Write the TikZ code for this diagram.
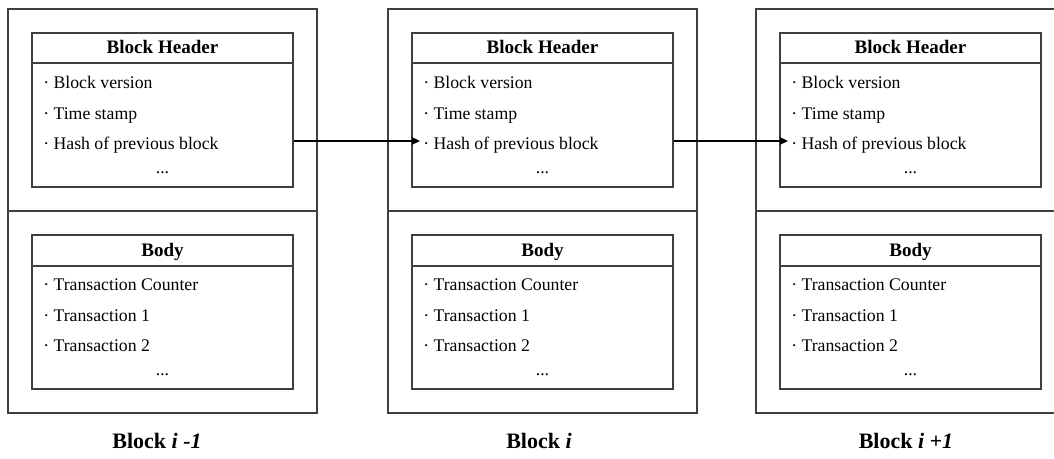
\documentclass[tikz,border=0pt]{standalone}
\usepackage{fontspec}
\setmainfont{Liberation Serif}
\usetikzlibrary{arrows.meta}
\definecolor{linegray}{RGB}{64,64,64}
\begin{document}
\begin{tikzpicture}[x=0.75pt,y=-0.75pt,
  every node/.style={font=\fontsize{13.3}{16}\selectfont, text=black},
  outerbox/.style={draw=linegray, line width=0.8pt, rectangle, inner sep=0pt,
    minimum width=231.75pt, minimum height=303pt},
  innerbox/.style={draw=linegray, line width=0.8pt, rectangle, inner sep=0pt,
    minimum width=195.75pt, minimum height=115.5pt},
  sepline/.style={draw=linegray, line width=0.8pt},
  titletext/.style={font=\fontsize{14.3}{16}\selectfont\bfseries, inner sep=0pt, anchor=base},
  itemtext/.style={anchor=base west, inner sep=0pt},
  dotstext/.style={anchor=base, inner sep=0pt},
  blocklabel/.style={font=\fontsize{16.5}{18}\selectfont\bfseries, inner sep=0pt, anchor=base},
  arr/.style={draw=black, line width=0.8pt, -{Triangle[length=6pt,width=5.5pt]}}
]
\useasboundingbox (0,0) rectangle (1054,459);
\clip (0,0) rectangle (1054,459);
\foreach \x/\n in {0/A,380/B,748/C}{
  \node[outerbox] (out\n) at (162.5+\x,211) {};
  \draw[sepline] (out\n.west |- 0,211) -- (out\n.east |- 0,211);
  % header
  \node[innerbox] (hdr\n) at (162.5+\x,110) {};
  \draw[sepline] (hdr\n.west |- 0,63) -- (hdr\n.east |- 0,63);
  \node[titletext] (hdrt\n) at (162.5+\x,54) {Block Header};
  \node[itemtext] (ver\n) at (43+\x,89) {· Block version};
  \node[itemtext] (ts\n) at (43+\x,120) {· Time stamp};
  \node[itemtext] (hash\n) at (43+\x,150) {· Hash of previous block};
  \node[dotstext] (hdots\n) at (162.5+\x,174) {...};
  % body
  \node[innerbox] (body\n) at (162.5+\x,312) {};
  \draw[sepline] (body\n.west |- 0,266) -- (body\n.east |- 0,266);
  \node[titletext] (bodyt\n) at (162.5+\x,257) {Body};
  \node[itemtext] (cnt\n) at (43+\x,291) {· Transaction Counter};
  \node[itemtext] (tx1\n) at (43+\x,322) {· Transaction 1};
  \node[itemtext] (tx2\n) at (43+\x,352) {· Transaction 2};
  \node[dotstext] (bdots\n) at (162.5+\x,376) {...};
}
\node[blocklabel] (labA) at (157,449) {Block \textit{i -1}};
\node[blocklabel] (labB) at (539,449) {Block \textit{i}};
\node[blocklabel] (labC) at (906,449) {Block \textit{i +1}};
\coordinate (inB) at (420,141);
\coordinate (inC) at (788,141);
\draw[arr] (hdrA.east |- inB) -- (inB);
\draw[arr] (hdrB.east |- inC) -- (inC);
\end{tikzpicture}
\end{document}
